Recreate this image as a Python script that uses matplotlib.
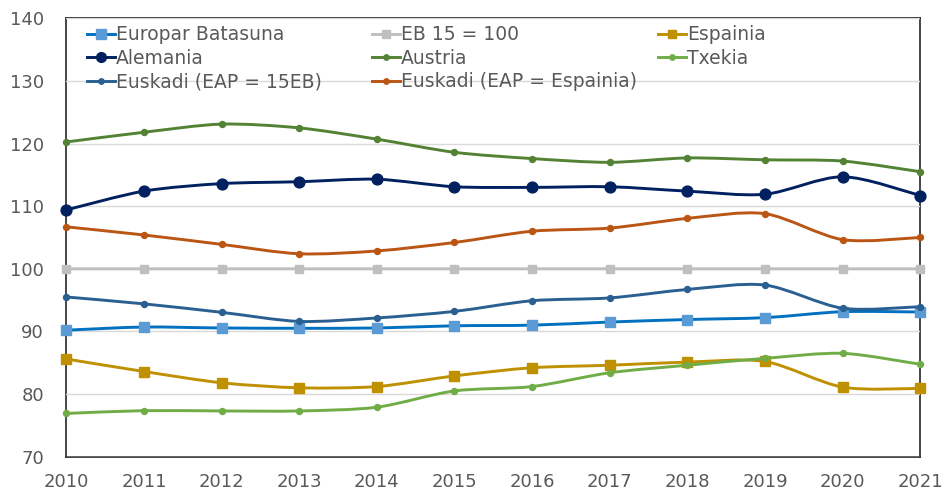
import numpy as np
import matplotlib
matplotlib.use('Agg')
import matplotlib.pyplot as plt
from matplotlib.path import Path
from matplotlib.patches import PathPatch
from matplotlib.lines import Line2D

years = [2010, 2011, 2012, 2013, 2014, 2015, 2016, 2017, 2018, 2019, 2020, 2021]

europar = [90.2, 90.7, 90.55, 90.5, 90.55, 90.9, 91.0, 91.5, 91.9, 92.2, 93.15, 93.1]
eb15 = [100] * 12
espainia = [85.6, 83.6, 81.8, 81.0, 81.2, 82.9, 84.2, 84.6, 85.1, 85.2, 81.1, 80.9]
alemania = [109.4, 112.4, 113.6, 113.9, 114.3, 113.1, 113.0, 113.1, 112.4, 111.9, 114.7, 111.7]
austria = [120.25, 121.8, 123.1, 122.5, 120.7, 118.6, 117.6, 117.0, 117.7, 117.4, 117.2, 115.5]
txekia = [76.9, 77.35, 77.3, 77.3, 77.9, 80.5, 81.2, 83.4, 84.6, 85.7, 86.5, 84.75]
euskadi_eb = [95.5, 94.4, 93.05, 91.6, 92.15, 93.2, 94.9, 95.35, 96.7, 97.4, 93.7, 93.95]
euskadi_es = [106.7, 105.4, 103.9, 102.4, 102.85, 104.2, 106.0, 106.5, 108.05, 108.8, 104.65, 105.0]

labels = ['Europar Batasuna', 'EB 15 = 100', 'Espainia', 'Alemania', 'Austria',
          'Txekia', 'Euskadi (EAP = 15EB)', 'Euskadi (EAP = Espainia)']

# (values, line colour, marker, marker size, marker face)
series = {
    'Europar Batasuna': (europar, '#0070C0', 's', 7.3, '#5B9BD5'),
    'EB 15 = 100': (eb15, '#BFBFBF', 's', 6.3, '#BFBFBF'),
    'Espainia': (espainia, '#BF9000', 's', 7, '#BF9000'),
    'Alemania': (alemania, '#002060', 'o', 7.8, '#002060'),
    'Austria': (austria, '#548235', 'o', 4.3, '#548235'),
    'Txekia': (txekia, '#70AD47', 'o', 4.3, '#70AD47'),
    'Euskadi (EAP = 15EB)': (euskadi_eb, '#2A5F91', 'o', 4.3, '#2A5F91'),
    'Euskadi (EAP = Espainia)': (euskadi_es, '#BA5514', 'o', 4.3, '#BA5514'),
}

text_col = '#595959'
plt.rcParams['font.family'] = 'DejaVu Sans'


def smooth_path(x, y, k=1 / 7):
    # excel-like smoothed line: cubic bezier, catmull-rom style tangents
    x = np.asarray(x, float)
    y = np.asarray(y, float)
    n = len(x)
    verts = [(x[0], y[0])]
    codes = [Path.MOVETO]
    for i in range(n - 1):
        i0 = max(i - 1, 0)
        i3 = min(i + 2, n - 1)
        c1 = (x[i] + (x[i + 1] - x[i0]) * k, y[i] + (y[i + 1] - y[i0]) * k)
        c2 = (x[i + 1] - (x[i3] - x[i]) * k, y[i + 1] - (y[i3] - y[i]) * k)
        verts += [c1, c2, (x[i + 1], y[i + 1])]
        codes += [Path.CURVE4] * 3
    return Path(verts, codes)


fig = plt.figure(figsize=(9.44, 4.90), dpi=100)
ax = fig.add_axes([0.0702, 0.068, 0.9047, 0.8947])

handles = {}
for z, name in enumerate(labels):
    vals, col, mk, ms, mface = series[name]
    patch = PathPatch(smooth_path(years, vals), facecolor='none', edgecolor=col,
                      lw=2.1, zorder=2 + z, clip_on=False)
    ax.add_patch(patch)
    ax.plot(years, vals, linestyle='none', marker=mk, ms=ms, mfc=mface, mec=mface,
            zorder=2.5 + z, clip_on=False)
    handles[name] = Line2D([], [], color=col, lw=2.1, marker=mk, ms=ms * 0.9,
                           mfc=mface, mec=mface)

ax.set_xlim(2010, 2021)
ax.set_ylim(70, 140)
ax.set_xticks(years)
ax.set_yticks(range(70, 141, 10))
ax.tick_params(length=0, labelsize=13, labelcolor=text_col)
ax.tick_params(axis='y', pad=16)
ax.tick_params(axis='x', pad=12)
ax.grid(axis='y', color='#D9D9D9', lw=1, zorder=0)
for s in ax.spines.values():
    s.set_color('#262626')
    s.set_linewidth(1.2)
    s.set_zorder(1)

# three legend columns, excel lays them out on a fixed grid
cols = [['Europar Batasuna', 'Alemania', 'Euskadi (EAP = 15EB)'],
        ['EB 15 = 100', 'Austria', 'Euskadi (EAP = Espainia)'],
        ['Espainia', 'Txekia']]
xs = [0.0246, 0.358, 0.693]
legs = []
for names, x0 in zip(cols, xs):
    leg = ax.legend([handles[n] for n in names], names, loc='upper left',
                    bbox_to_anchor=(x0, 0.984), frameon=False, borderpad=0,
                    borderaxespad=0, handlelength=1.5, handletextpad=0.05,
                    labelspacing=0.24, fontsize=13.5, labelcolor=text_col)
    leg.set_zorder(20)
    legs.append(leg)
for leg in legs[:-1]:
    ax.add_artist(leg)

fig.savefig('out.png', dpi=100)
